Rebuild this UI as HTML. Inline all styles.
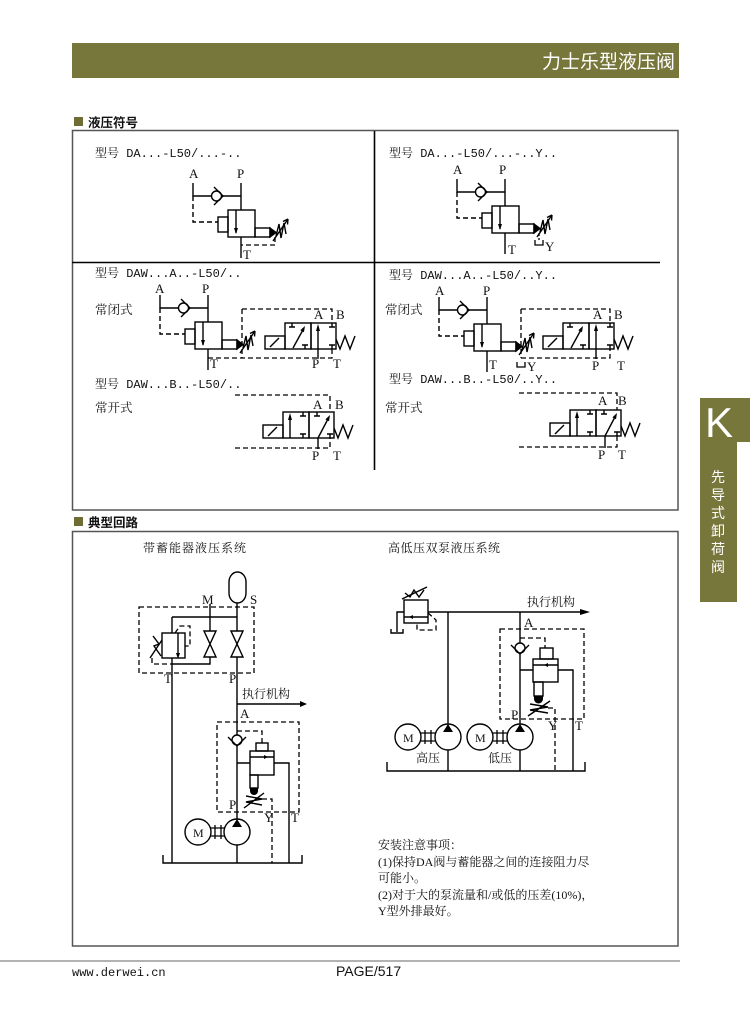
<!DOCTYPE html>
<html><head><meta charset="utf-8">
<style>
html,body{margin:0;padding:0;background:#fff;}
svg{display:block;}
.sf{font-family:"Liberation Serif","Noto Serif CJK SC",serif;fill:#111;}
.mo{font-family:"Liberation Mono","Noto Serif CJK SC",monospace;fill:#111;}
.ss{font-family:"Liberation Sans","Noto Sans CJK SC",sans-serif;}
</style></head><body>
<svg width="750" height="1018" viewBox="0 0 750 1018" xmlns="http://www.w3.org/2000/svg">
<defs>
<g id="da" fill="none" stroke="#000" stroke-width="1.4">
 <path d="M0,-13V0H18.5M28.5,0H48M48,-13V14"/>
 <circle cx="23.5" cy="0" r="5"/>
 <path d="M21,-9L30,0L21,9"/>
 <rect x="35" y="14" width="27" height="27"/>
 <rect x="25" y="21" width="10" height="15"/>
 <path d="M43,14V37"/>
 <path d="M41,32L43,38L45,32Z" fill="#000" stroke="none"/>
 <rect x="62" y="32" width="15" height="9"/>
 <path d="M77,32L83,36.5L77,41Z" fill="#000"/>
 <path d="M83,40L86,28L88,42L91,27L93,38"/>
 <path d="M80,45L95,23"/>
 <path d="M95,23L90,25.5M95,23L94.5,28.5"/>
 <path d="M48,41V62"/>
 <path d="M0,0V26H25" stroke-dasharray="5,3"/>
</g>
<g id="nc" fill="none" stroke="#000" stroke-width="1.4">
 <rect x="-20" y="13" width="20" height="13"/>
 <path d="M-15,24L-6,15"/>
 <rect x="0" y="0" width="26" height="26"/>
 <rect x="26" y="0" width="25" height="26"/>
 <path d="M7,0V4M4,4H10M20,26V22M17,22H23"/>
 <path d="M8,25L19,5"/>
 <polygon points="20,3 18.9,9.2 15.3,7.3" fill="#000" stroke="none"/>
 <path d="M33,26V5"/>
 <polygon points="31,8 35,8 33,1" fill="#000" stroke="none"/>
 <path d="M47,0V4M44,4H50M47,26V22M44,22H50"/>
 <path d="M51,16L55,26L60,13L65,26L70,13"/>
</g>
<g id="no" fill="none" stroke="#000" stroke-width="1.4">
 <rect x="-20" y="13" width="20" height="13"/>
 <path d="M-15,24L-6,15"/>
 <rect x="0" y="0" width="26" height="26"/>
 <rect x="26" y="0" width="25" height="26"/>
 <path d="M7,26V5"/>
 <polygon points="5,8 9,8 7,1" fill="#000" stroke="none"/>
 <path d="M20,0V4M17,4H23M20,26V22M17,22H23"/>
 <path d="M34,0V4M31,4H37"/>
 <path d="M35,26L46,5"/>
 <polygon points="47,3 46,9.2 42.4,7.4" fill="#000" stroke="none"/>
 <path d="M47,26V22M44,22H50"/>
 <path d="M51,16L55,26L60,13L65,26L70,13"/>
</g>
<g id="pump" fill="none" stroke="#000" stroke-width="1.4">
 <circle cx="0" cy="0" r="13"/>
 <polygon points="0,-13 -5,-5 5,-5" fill="#000" stroke="none"/>
</g>
<g id="cpl" fill="none" stroke="#000" stroke-width="1.3">
 <path d="M0,-4H14M0,4H14M4,-7V7M10,-7V7"/>
</g>
</defs>

<!-- header -->
<rect x="72" y="43" width="607" height="35" fill="#78773b"/>
<text x="675" y="68" text-anchor="end" class="ss" font-size="19" fill="#fff">力士乐型液压阀</text>

<!-- section 1 -->
<rect x="74" y="117" width="9" height="9" fill="#6e6d33"/>
<text x="88" y="127" class="ss" font-size="12.5" font-weight="bold" fill="#111">液压符号</text>
<rect x="72.5" y="130.5" width="605.5" height="379.5" fill="none" stroke="#555" stroke-width="1.5"/>
<line x1="374.5" y1="131" x2="374.5" y2="470" stroke="#000" stroke-width="1.6"/>
<line x1="72" y1="262.5" x2="660" y2="262.5" stroke="#000" stroke-width="1.6"/>

<!-- panel 1 -->
<text x="95" y="157" class="mo" font-size="12">型号 DA...-L50/...-..</text>
<use href="#da" x="193" y="196"/>
<path d="M275,237V245H241" fill="none" stroke="#000" stroke-width="1.3" stroke-dasharray="5,3"/>
<text x="189" y="178" class="sf" font-size="13">A</text>
<text x="237" y="178" class="sf" font-size="13">P</text>
<text x="243" y="259" class="sf" font-size="13">T</text>

<!-- panel 2 -->
<text x="389" y="157" class="mo" font-size="12">型号 DA...-L50/...-..Y..</text>
<use href="#da" x="457" y="192"/>
<path d="M539,233V240" fill="none" stroke="#000" stroke-width="1.3" stroke-dasharray="3,2"/>
<path d="M535,240V245H543V240" fill="none" stroke="#000" stroke-width="1.3"/>
<text x="453" y="174" class="sf" font-size="13">A</text>
<text x="499" y="174" class="sf" font-size="13">P</text>
<text x="508" y="254" class="sf" font-size="13">T</text>
<text x="545" y="251" class="sf" font-size="13">Y</text>

<!-- panel 3 -->
<text x="95" y="277" class="mo" font-size="12">型号 DAW...A..-L50/..</text>
<text x="95" y="314" class="sf" font-size="12.5">常闭式</text>
<use href="#da" x="160" y="308"/>
<text x="155" y="293" class="sf" font-size="13">A</text>
<text x="202" y="293" class="sf" font-size="13">P</text>
<text x="210" y="368" class="sf" font-size="13">T</text>
<use href="#nc" x="285" y="323"/>
<path d="M242,309H332V323M242,309V358M208,358H332V349" fill="none" stroke="#000" stroke-width="1.3" stroke-dasharray="5,3"/>
<path d="M318,349V359" stroke="#000" stroke-width="1.4"/>
<text x="314" y="319" class="sf" font-size="13">A</text>
<text x="336" y="319" class="sf" font-size="13">B</text>
<text x="312" y="368" class="sf" font-size="13">P</text>
<text x="333" y="368" class="sf" font-size="13">T</text>

<text x="95" y="388" class="mo" font-size="12">型号 DAW...B..-L50/..</text>
<text x="95" y="412" class="sf" font-size="12.5">常开式</text>
<use href="#no" x="283" y="412"/>
<path d="M235,395H330V412M235,448H330V438" fill="none" stroke="#000" stroke-width="1.3" stroke-dasharray="5,3"/>
<path d="M318,438V449" stroke="#000" stroke-width="1.4"/>
<text x="313" y="409" class="sf" font-size="13">A</text>
<text x="335" y="409" class="sf" font-size="13">B</text>
<text x="312" y="460" class="sf" font-size="13">P</text>
<text x="333" y="460" class="sf" font-size="13">T</text>

<!-- panel 4 -->
<text x="389" y="279" class="mo" font-size="12">型号 DAW...A..-L50/..Y..</text>
<text x="385" y="314" class="sf" font-size="12.5">常闭式</text>
<use href="#da" x="439" y="310"/>
<text x="435" y="295" class="sf" font-size="13">A</text>
<text x="483" y="295" class="sf" font-size="13">P</text>
<text x="489" y="369" class="sf" font-size="13">T</text>
<path d="M517,362V367H525V362" fill="none" stroke="#000" stroke-width="1.3"/>
<text x="527" y="371" class="sf" font-size="13">Y</text>
<use href="#nc" x="563" y="323"/>
<path d="M521,309H610V323M521,309V358M521,358H610V349" fill="none" stroke="#000" stroke-width="1.3" stroke-dasharray="5,3"/>
<path d="M596,349V359" stroke="#000" stroke-width="1.4"/>
<text x="593" y="319" class="sf" font-size="13">A</text>
<text x="614" y="319" class="sf" font-size="13">B</text>
<text x="592" y="370" class="sf" font-size="13">P</text>
<text x="617" y="370" class="sf" font-size="13">T</text>

<text x="389" y="383" class="mo" font-size="12">型号 DAW...B..-L50/..Y..</text>
<text x="385" y="412" class="sf" font-size="12.5">常开式</text>
<use href="#no" x="570" y="410"/>
<path d="M519,393H617V410M519,447H617V436" fill="none" stroke="#000" stroke-width="1.3" stroke-dasharray="5,3"/>
<path d="M605,436V448" stroke="#000" stroke-width="1.4"/>
<text x="598" y="405" class="sf" font-size="13">A</text>
<text x="618" y="405" class="sf" font-size="13">B</text>
<text x="598" y="459" class="sf" font-size="13">P</text>
<text x="618" y="459" class="sf" font-size="13">T</text>

<!-- section 2 -->
<rect x="74" y="517" width="9" height="9" fill="#6e6d33"/>
<text x="88" y="527" class="ss" font-size="12.5" font-weight="bold" fill="#111">典型回路</text>
<rect x="72.5" y="531.5" width="605.5" height="414.5" fill="none" stroke="#555" stroke-width="1.5"/>

<text x="143" y="552" class="sf" font-size="12" letter-spacing="1">带蓄能器液压系统</text>
<text x="388" y="552" class="sf" font-size="12" letter-spacing="0.5">高低压双泵液压系统</text>

<!-- left circuit -->
<g fill="none" stroke="#000" stroke-width="1.4">
 <rect x="229" y="572" width="17" height="31" rx="8.5" ry="10"/>
 <path d="M237,603V631M237,657V735M237,746V819"/>
 <path d="M210,604V631M210,657V664H172"/>
 <path d="M172,617H237M172,617V633"/>
 <path d="M231,631H243L231,657H243Z"/>
 <path d="M204,631H216L204,657H216Z"/>
 <rect x="162" y="633" width="23" height="25"/>
 <path d="M178,633V656"/>
 <path d="M172,658V863"/>
 <path d="M161,656L154,646L159,644L153,636M150,658L162,640"/>
 <path d="M237,704H300"/>
 <circle cx="237" cy="740" r="5"/>
 <path d="M228,737L237,746L246,737"/>
 <rect x="256" y="743" width="12" height="8"/>
 <rect x="250" y="751" width="24" height="24"/>
 <path d="M250,757H274"/>
 <path d="M237,763H250M274,763H289V863"/>
 <rect x="250" y="775" width="8" height="13"/>
 <path d="M246,796L262,799L246,802L262,805M244,808L264,793"/>
 <path d="M237,845V863"/>
 <path d="M163,855V863H302V855"/>
 <circle cx="198" cy="832" r="13"/>
</g>
<polygon points="176,653 178,659 180,653" fill="#000"/>
<polygon points="300,701 307,704 300,707" fill="#000"/>
<polygon points="264,755 268,757 264,759" fill="#000"/>
<path d="M250,788H258V791A4,4 0 0 1 250,791Z" fill="#000"/>
<g fill="none" stroke="#000" stroke-width="1.3" stroke-dasharray="5,3">
 <rect x="139" y="607" width="115" height="66"/>
 <path d="M175,633L180,626H190V646H185"/>
 <path d="M152,658V664H172"/>
 <rect x="217" y="722" width="82" height="90"/>
 <path d="M237,731H262V743"/>
 <path d="M262,799H272V863"/>
</g>
<use href="#pump" x="237" y="832"/>
<use href="#cpl" x="211" y="832"/>
<text x="193" y="837" class="sf" font-size="12">M</text>
<text x="202" y="604" class="sf" font-size="13">M</text>
<text x="250" y="604" class="sf" font-size="13">S</text>
<text x="164" y="683" class="sf" font-size="13">T</text>
<text x="229" y="683" class="sf" font-size="13">P</text>
<text x="242" y="698" class="sf" font-size="12">执行机构</text>
<text x="240" y="718" class="sf" font-size="13">A</text>
<text x="229" y="809" class="sf" font-size="13">P</text>
<text x="264" y="822" class="sf" font-size="13">Y</text>
<text x="291" y="822" class="sf" font-size="13">T</text>

<!-- right circuit -->
<g fill="none" stroke="#000" stroke-width="1.4">
 <rect x="404" y="600" width="24" height="23"/>
 <path d="M404,617H428"/>
 <path d="M405,593L410,597L414,590L419,597L424,590M402,599L427,587"/>
 <path d="M404,612H397V632"/>
 <path d="M391,629V633H403V629"/>
 <path d="M428,612H582"/>
 <path d="M448,612V724M448,750V771"/>
 <path d="M520,612V643M520,653V724M520,750V771"/>
 <circle cx="520" cy="648" r="5"/>
 <path d="M511,645L520,654L529,645"/>
 <rect x="540" y="648" width="13" height="11"/>
 <rect x="533" y="659" width="25" height="23"/>
 <path d="M533,665H558"/>
 <path d="M520,670H533M558,670H573V771"/>
 <rect x="534" y="682" width="9" height="14"/>
 <path d="M530,704L548,707L530,710L548,713M528,716L550,701"/>
 <path d="M387,762V771H585V762"/>
 <circle cx="408" cy="737" r="13"/>
 <circle cx="480" cy="737" r="13"/>
</g>
<polygon points="413,615 409,617 413,619" fill="#000"/>
<polygon points="548,663 544,665 548,667" fill="#000"/>
<polygon points="580,609 590,612 580,615" fill="#000"/>
<path d="M534,696H543V699A4.5,4.5 0 0 1 534,699Z" fill="#000"/>
<g fill="none" stroke="#000" stroke-width="1.3" stroke-dasharray="5,3">
 <path d="M428,613L436,620V630H417V623"/>
 <rect x="500" y="629" width="84" height="90"/>
 <path d="M520,638H545V648"/>
 <path d="M548,708H555V771"/>
</g>
<use href="#pump" x="448" y="737"/>
<use href="#pump" x="520" y="737"/>
<use href="#cpl" x="421" y="737"/>
<use href="#cpl" x="493" y="737"/>
<text x="403" y="742" class="sf" font-size="12">M</text>
<text x="475" y="742" class="sf" font-size="12">M</text>
<text x="416" y="762" class="sf" font-size="12">高压</text>
<text x="488" y="762" class="sf" font-size="12">低压</text>
<text x="527" y="606" class="sf" font-size="12">执行机构</text>
<text x="524" y="627" class="sf" font-size="13">A</text>
<text x="511" y="719" class="sf" font-size="13">P</text>
<text x="548" y="730" class="sf" font-size="13">Y</text>
<text x="575" y="730" class="sf" font-size="13">T</text>

<!-- notes -->
<text x="378" y="849" class="sf" font-size="12">安装注意事项：</text>
<text x="378" y="866" class="sf" font-size="12">(1)保持DA阀与蓄能器之间的连接阻力尽</text>
<text x="378" y="882" class="sf" font-size="12">可能小。</text>
<text x="378" y="899" class="sf" font-size="12">(2)对于大的泵流量和/或低的压差(10%)，</text>
<text x="378" y="915" class="sf" font-size="12">Y型外排最好。</text>

<!-- side tab -->
<rect x="700" y="398" width="37" height="204" fill="#78773b"/>
<rect x="700" y="398" width="50" height="44" fill="#78773b"/>
<text x="705" y="437" class="ss" font-size="42" fill="#fff">K</text>
<g class="ss" font-size="14" fill="#fff" text-anchor="middle">
 <text x="718" y="482">先</text>
 <text x="718" y="500">导</text>
 <text x="718" y="518">式</text>
 <text x="718" y="536">卸</text>
 <text x="718" y="554">荷</text>
 <text x="718" y="572">阀</text>
</g>

<!-- footer -->
<line x1="0" y1="961" x2="680" y2="961" stroke="#999" stroke-width="1.5"/>
<text x="72" y="976" class="mo" font-size="12">www.derwei.cn</text>
<text x="336" y="976" class="ss" font-size="14" fill="#111">PAGE/517</text>
</svg>
</body></html>
